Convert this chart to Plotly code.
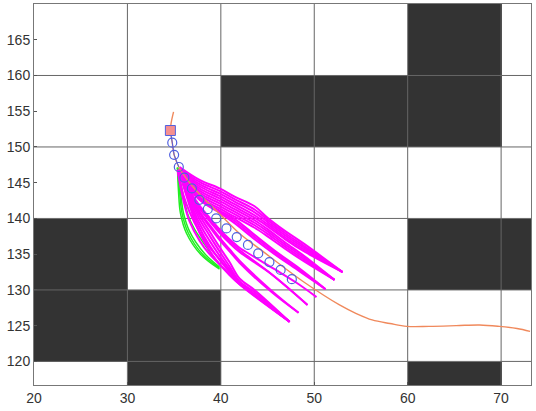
import plotly.graph_objects as go

# occupancy map, one row per 10 units of y (110 to 170)
cell_x = [20, 30, 40, 50, 60, 70, 80]
cell_y = [110, 120, 130, 140, 150, 160, 170]
cells = [
    [0, 1, 0, 0, 1, 0],
    [1, 1, 0, 0, 0, 0],
    [1, 0, 0, 0, 1, 1],
    [0, 0, 0, 0, 0, 0],
    [0, 0, 1, 1, 1, 0],
    [0, 0, 0, 0, 1, 0],
]
grid_x = [30, 40, 50, 60, 70]
grid_y = [120, 130, 140, 150, 160]
xrange = [20, 73.2]
yrange = [116.7, 170]

# reference path
ref_x = [34.94, 34.7, 34.6, 34.8, 35.0, 35.5, 36.6, 38.3, 39.9, 42.0, 44.5, 46.8, 49.0, 52.7, 54.5, 56.2, 58.1, 59.9, 62.3, 65.2, 67.7, 69.8, 71.7, 73.1]
ref_y = [154.9, 153.5, 152.4, 150.6, 148.9, 147.2, 145.1, 142.6, 140.6, 137.9, 135.4, 133.1, 131.0, 127.9, 126.7, 125.8, 125.3, 124.9, 124.9, 125.0, 125.1, 124.9, 124.6, 124.2]

# predicted positions
pred_x = [34.8, 35.0, 35.5, 36.1, 36.9, 37.7, 38.6, 39.5, 40.6, 41.7, 42.9, 44.0, 45.2, 46.4, 47.6]
pred_y = [150.6, 148.9, 147.2, 145.7, 144.2, 142.6, 141.3, 140.0, 138.6, 137.4, 136.3, 135.1, 133.9, 132.8, 131.5]
start_x = [34.6]
start_y = [152.3]
link_x = [34.6, 34.8, 35.0, 35.5]
link_y = [152.3, 150.6, 148.9, 147.2]

# green candidates
green = [
    ([35.36, 35.47, 35.68, 36.33, 37.83, 39.86], [147.1, 143.75, 140.7, 137.9, 135.0, 132.9]),
    ([35.36, 35.58, 35.85, 36.5, 38.0, 39.86], [147.1, 143.75, 140.7, 138.0, 135.05, 133.05]),
    ([35.36, 35.68, 36.01, 36.65, 38.25, 39.86], [147.1, 143.75, 140.7, 138.2, 135.1, 133.2]),
    ([35.36, 35.9, 36.43, 37.18, 38.79, 39.97], [147.1, 143.75, 140.7, 138.5, 135.4, 133.4]),
]

# magenta candidates, the upper ones run above the predicted path
upper_x1 = [35.58, 37.72, 39.86, 41.47, 43.61, 45.0, 46.82, 48.96, 53.03]
upper_y1 = [
    [147.2, 145.4, 144.2, 143.05, 141.7, 140.1, 138.3, 136.4, 132.5],
    [147.1, 145.1, 143.85, 142.7, 141.25, 139.8, 138.0, 136.1, 132.5],
    [147.0, 144.8, 143.5, 142.35, 140.85, 139.5, 137.7, 135.85, 132.5],
    [146.8, 144.5, 143.15, 142.0, 140.45, 139.2, 137.4, 135.6, 132.5],
    [146.6, 144.2, 142.8, 141.65, 140.1, 138.9, 137.15, 135.35, 132.5],
]
upper_x2 = [35.58, 37.72, 39.86, 41.47, 43.61, 45.0, 46.82, 48.96, 52.17]
upper_y2 = [
    [146.5, 143.9, 142.45, 141.3, 139.75, 138.5, 136.7, 134.7, 131.4],
    [146.4, 143.6, 142.1, 140.95, 139.4, 138.2, 136.4, 134.45, 131.4],
    [146.3, 143.3, 141.75, 140.6, 139.05, 137.85, 136.1, 134.2, 131.4],
    [146.25, 143.0, 141.4, 140.25, 138.7, 137.5, 135.8, 133.95, 131.4],
]
upper_x3 = [35.58, 37.72, 39.86, 41.47, 43.61, 45.75, 48.43, 51.21]
upper_y3 = [
    [146.2, 142.8, 141.1, 139.95, 137.7, 135.5, 133.0, 130.1],
    [146.15, 142.7, 140.95, 139.65, 137.4, 135.25, 132.8, 130.1],
    [146.1, 142.6, 140.8, 139.35, 137.1, 135.0, 132.6, 130.1],
]

# the lower ones run below it
lower_x4 = [35.47, 36.65, 37.72, 38.79, 39.86, 40.93, 42.0, 43.61, 45.75, 48.1, 50.24]
lower_y4 = [
    [146.8, 143.95, 141.8, 140.1, 138.5, 137.1, 135.9, 134.6, 132.9, 131.0, 129.0],
]
lower_x5 = [35.47, 36.65, 37.72, 38.79, 39.86, 40.93, 42.0, 45.43, 49.28]
lower_y5 = [
    [146.8, 143.8, 141.6, 139.9, 138.25, 136.85, 135.6, 132.2, 127.9],
    [146.8, 143.65, 141.4, 139.65, 138.0, 136.55, 135.3, 132.2, 127.9],
]
lower_x6 = [35.47, 36.65, 37.72, 38.79, 39.86, 40.93, 42.0, 45.43, 48.32]
lower_y6 = [
    [146.8, 143.5, 141.0, 139.1, 137.3, 135.7, 134.1, 129.9, 126.8],
    [146.8, 143.35, 140.8, 138.85, 137.0, 135.4, 133.8, 129.7, 126.8],
]
lower_x7 = [35.47, 36.65, 37.72, 38.79, 39.86, 40.93, 42.0, 43.61, 47.36]
lower_y7 = [
    [146.8, 143.2, 140.4, 138.2, 136.0, 133.9, 131.6, 130.0, 125.55],
    [146.8, 142.95, 139.9, 137.6, 135.4, 133.3, 131.2, 129.7, 125.55],
    [146.8, 142.6, 139.3, 136.9, 134.8, 132.9, 131.0, 129.4, 125.55],
    [146.8, 142.2, 138.7, 136.2, 134.2, 132.5, 130.9, 129.3, 125.55],
    [146.8, 141.8, 138.0, 135.5, 133.6, 132.1, 130.8, 129.2, 125.55],
]
lower_x8 = [35.36, 36.01, 36.65, 37.72, 38.79, 39.86, 42.0, 47.36]
lower_y8 = [
    [146.8, 143.2, 140.9, 138.1, 136.0, 134.3, 131.1, 125.55],
    [146.8, 142.4, 139.6, 136.9, 135.0, 133.6, 130.8, 125.55],
]
magenta = [
    (upper_x1, upper_y1), (upper_x2, upper_y2), (upper_x3, upper_y3),
    (lower_x4, lower_y4), (lower_x5, lower_y5), (lower_x6, lower_y6), (lower_x7, lower_y7), (lower_x8, lower_y8),
]

fig = go.Figure()
fig.add_trace(go.Heatmap(x=cell_x, y=cell_y, z=cells, zmin=0, zmax=1, showscale=False,
                         colorscale=[[0, "#ffffff"], [1, "#333333"]]))

# grid has to sit on top of the dark cells
line_x = []
line_y = []
for gx in grid_x:
    line_x += [gx, gx, None]
    line_y += [yrange[0], yrange[1], None]
for gy in grid_y:
    line_x += [xrange[0], xrange[1], None]
    line_y += [gy, gy, None]
fig.add_trace(go.Scatter(x=line_x, y=line_y, mode="lines", line=dict(color="#666666", width=1)))

for cx, cy in green:
    fig.add_trace(go.Scatter(x=cx, y=cy, mode="lines", line=dict(color="#22ee22", width=1.5, shape="spline")))
for mx, rows in magenta:
    for my in rows:
        fig.add_trace(go.Scatter(x=mx, y=my, mode="lines", line=dict(color="#ff00ff", width=2, shape="spline")))

fig.add_trace(go.Scatter(x=ref_x, y=ref_y, mode="lines", line=dict(color="#f0895c", width=1.4, shape="spline")))
fig.add_trace(go.Scatter(x=link_x, y=link_y, mode="lines", line=dict(color="#5060e0", width=1)))
fig.add_trace(go.Scatter(x=pred_x, y=pred_y, mode="markers",
                         marker=dict(symbol="circle-open", size=9, color="#5060e0", line=dict(width=1.2))))
fig.add_trace(go.Scatter(x=start_x, y=start_y, mode="markers",
                         marker=dict(symbol="square", size=10, color="#f58f8f", line=dict(color="#5060e0", width=1))))

fig.update_layout(
    width=536, height=411,
    margin=dict(l=34, r=5, t=4, b=26),
    paper_bgcolor="white",
    plot_bgcolor="white",
    showlegend=False,
    font=dict(family="Liberation Sans", size=14, color="#333333"),
    xaxis=dict(range=xrange, dtick=10, tick0=20, showgrid=False, zeroline=False, showline=True, mirror=True,
               linecolor="#777777", ticks="inside", ticklen=3, tickcolor="#555555"),
    yaxis=dict(range=yrange, dtick=5, tick0=120, showgrid=False, zeroline=False, showline=True, mirror=True,
               linecolor="#777777", ticks="inside", ticklen=3, tickcolor="#555555"),
)
# page has a default body margin that pushes the fixed size plot off the window
fig.write_html("out.html", config=dict(displayModeBar=False), post_script="document.body.style.margin='0';")
